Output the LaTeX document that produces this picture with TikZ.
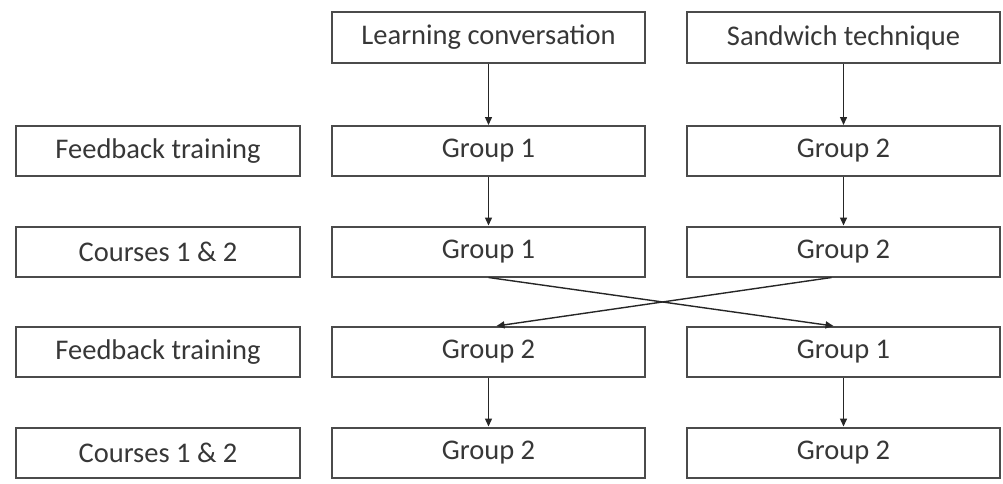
\documentclass[tikz,border=0pt]{standalone}
\usepackage{fontspec}
\setmainfont{Carlito}
\usetikzlibrary{arrows.meta}
\definecolor{txt}{RGB}{55,55,55}
\definecolor{edge}{RGB}{75,75,75}
\tikzset{
  box/.style={draw=edge, line width=2pt, rectangle, minimum height=50pt, inner sep=0pt,
    font=\fontsize{28.5}{32}\selectfont, text=txt},
  lbox/.style={box, minimum width=284pt},
  wbox/.style={box, minimum width=313pt},
  arr/.style={draw=black!85, line width=1.4pt, -{Triangle[length=8pt,width=7pt]}}
}
\begin{document}
\begin{tikzpicture}[x=1pt,y=-1pt]
\useasboundingbox (0,0) rectangle (1003,483);
\node[wbox, minimum height=51pt] (lc) at (488.5,37.5) {Learning conversation};
\node[wbox, minimum height=51pt] (sw) at (843.5,37.5) {Sandwich technique};
\node[lbox] (f1) at (158,151) {Feedback training};
\node[wbox] (m1) at (488.5,151) {Group 1};
\node[wbox] (r1) at (843.5,151) {Group 2};
\node[lbox] (c1) at (158,251.5) {Courses 1 \& 2};
\node[wbox] (m2) at (488.5,251.5) {Group 1};
\node[wbox] (r2) at (843.5,251.5) {Group 2};
\node[lbox] (f2) at (158,352) {Feedback training};
\node[wbox] (m3) at (488.5,352) {Group 2};
\node[wbox] (r3) at (843.5,352) {Group 1};
\node[lbox] (c2) at (158,452.5) {Courses 1 \& 2};
\node[wbox] (m4) at (488.5,452.5) {Group 2};
\node[wbox] (r4) at (843.5,452.5) {Group 2};
\draw[arr] (lc) -- (m1);
\draw[arr] (sw) -- (r1);
\draw[arr] (m1) -- (m2);
\draw[arr] (r1) -- (r2);
\draw[arr] (m2.south) -- ([xshift=-10pt]r3.north);
\draw[arr] ([xshift=-12pt]r2.south) -- ([xshift=8pt]m3.north);
\draw[arr] (m3) -- (m4);
\draw[arr] (r3) -- (r4);
\end{tikzpicture}
\end{document}
